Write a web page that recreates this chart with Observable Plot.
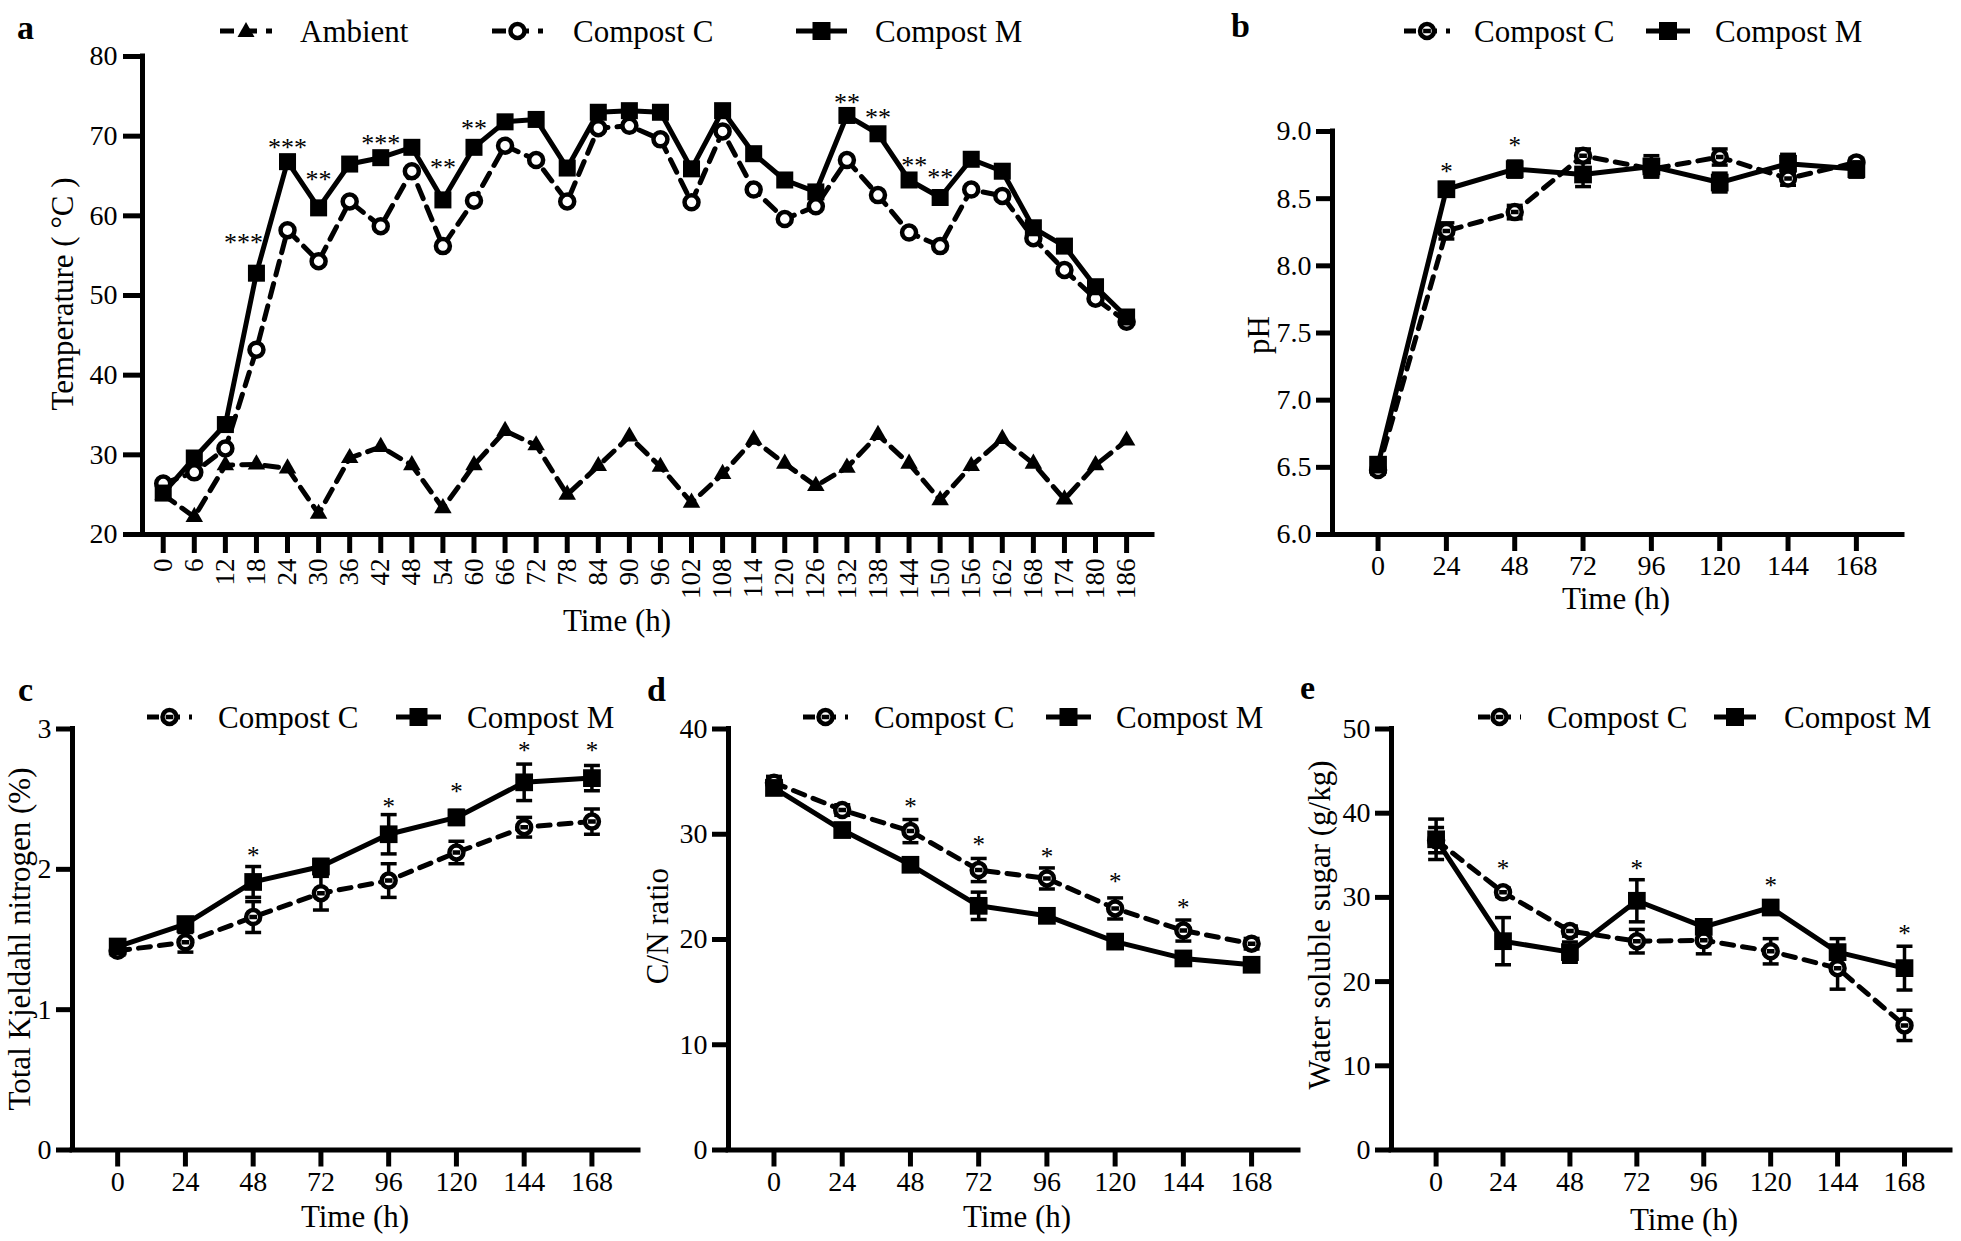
<!DOCTYPE html>
<html><head><meta charset="utf-8">
<script src="https://cdn.jsdelivr.net/npm/d3@7"></script>
<script src="https://cdn.jsdelivr.net/npm/@observablehq/plot@0.6"></script>
<style>
body{margin:0;background:#fff;}
#root{position:relative;width:1961px;height:1241px;overflow:hidden;font-family:"Liberation Serif","Times New Roman",serif;background:#fff;}
.panel{position:absolute;}
#overlay{position:absolute;left:0;top:0;pointer-events:none;}
</style></head><body><div id="root"></div>
<script>
// ---------- DATA ----------
// Panel a: temperature
const timeA = [0,6,12,18,24,30,36,42,48,54,60,66,72,78,84,90,96,102,108,114,120,126,132,138,144,150,156,162,168,174,180,186];
const ambientT = [25.0,22.2,28.7,28.8,28.3,22.6,29.6,31.0,28.7,23.3,28.7,33.0,31.2,25.0,28.6,32.3,28.5,24.0,27.6,31.9,28.9,26.1,28.4,32.5,28.9,24.3,28.6,32.0,28.9,24.4,28.7,31.8];
const compostC_T = [26.4,27.8,30.8,43.2,58.2,54.3,61.8,58.7,65.6,56.2,61.9,68.8,67.0,61.8,71.0,71.3,69.6,61.7,70.6,63.3,59.6,61.2,67.0,62.6,57.9,56.2,63.3,62.5,57.2,53.2,49.6,46.7];
const compostM_T = [25.2,29.6,33.8,52.8,66.8,61.0,66.5,67.3,68.6,62.0,68.6,71.8,72.1,66.0,73.0,73.2,73.0,65.9,73.2,67.8,64.5,63.0,72.6,70.3,64.5,62.3,67.1,65.6,58.5,56.2,51.1,47.3];
const sigA_time = [15.5,24,30,42,54,60,132,138,145,150];
const sigA_y = [57.1,69.1,65.0,69.5,66.6,71.4,74.7,72.8,66.8,65.3];
const sigA_label = ["***","***","**","***","**","**","**","**","**","**"];
const tempTicks = [20,30,40,50,60,70,80];

// Panels b-e share time points
const timeB = [0,24,48,72,96,120,144,168];

// Panel b: pH
const pH_C = [6.48,8.26,8.40,8.82,8.72,8.81,8.65,8.77];
const pH_C_err = [0.03,0.06,0.05,0.05,0.05,0.06,0.05,0.03];
const pH_M = [6.52,8.57,8.72,8.68,8.74,8.62,8.76,8.72];
const pH_M_err = [0.03,0.05,0.06,0.09,0.08,0.07,0.07,0.06];
const sigB_time = [24,48];
const sigB_y = [8.73,8.92];
const pHTicks = [6.0,6.5,7.0,7.5,8.0,8.5,9.0];

// Panel c: total Kjeldahl nitrogen (%)
const tkn_C = [1.42,1.48,1.66,1.83,1.92,2.12,2.30,2.34];
const tkn_C_err = [0.03,0.07,0.11,0.12,0.12,0.08,0.07,0.09];
const tkn_M = [1.45,1.61,1.91,2.02,2.25,2.37,2.62,2.65];
const tkn_M_err = [0.03,0.03,0.11,0.05,0.14,0.05,0.13,0.09];
const sigC_time = [48,96,120,144,168];
const sigC_y = [2.12,2.47,2.58,2.87,2.87];
const tknTicks = [0,1,2,3];

// Panel d: C/N ratio
const cn_C = [34.9,32.3,30.3,26.6,25.8,22.95,20.85,19.6];
const cn_C_err = [0.6,0.5,1.1,1.1,1.0,1.0,1.0,0.5];
const cn_M = [34.4,30.4,27.1,23.2,22.25,19.8,18.2,17.6];
const cn_M_err = [0.5,0.5,0.6,1.3,0.5,0.5,0.6,0.4];
const sigD_time = [48,72,96,120,144];
const sigD_y = [33.0,29.4,28.2,25.8,23.4];
const cnTicks = [0,10,20,30,40];

// Panel e: water soluble sugar (g/kg)
const wss_C = [36.8,30.6,26.0,24.8,24.9,23.6,21.6,14.8];
const wss_C_err = [1.5,0.5,0.6,1.4,1.6,1.5,2.5,1.8];
const wss_M = [36.9,24.8,23.5,29.6,26.5,28.8,23.5,21.6];
const wss_M_err = [2.4,2.8,1.2,2.5,0.8,0.6,1.6,2.6];
const sigE_time = [24,72,120,168];
const sigE_y = [33.8,33.9,31.8,26.1];
const wssTicks = [0,10,20,30,40,50];

// ---------- SYMBOLS ----------
const hline = {draw(ctx, size){ const w = Math.sqrt(size); ctx.moveTo(-w/2,0); ctx.lineTo(w/2,0); }};
const circleDash = {draw(ctx, size){ const r = Math.sqrt(size/Math.PI); ctx.moveTo(r,0); ctx.arc(0,0,r,0,2*Math.PI); ctx.closePath(); ctx.moveTo(-r*0.55,0); ctx.lineTo(r*0.55,0); }};

const FONT = '"Liberation Serif","Times New Roman",serif';
const intFmt = d3.format("d");

function panel(cfg){
  const marks = [];
  const xd = cfg.xDomain, yd = cfg.yDomain;
  // axis lines
  marks.push(Plot.ruleY([yd[0]], {x1: xd[0], x2: xd[1], stroke:"black", strokeWidth:5, strokeLinecap:"square"}));
  marks.push(Plot.ruleX([xd[0]], {y1: yd[0], y2: yd[1], stroke:"black", strokeWidth:5, strokeLinecap:"square"}));
  marks.push(Plot.axisX(cfg.xTicks, {anchor:"bottom", tickSize: cfg.xTickSize, tickPadding: cfg.xTickPadding, strokeWidth:5, fontSize: cfg.xFont, label:null, tickFormat: intFmt, tickRotate: cfg.xRotate || 0, ...(cfg.xRotate ? {textAnchor:"end", lineAnchor:"middle"} : {})}));
  marks.push(Plot.axisY(cfg.yTicks, {anchor:"left", tickSize: cfg.yTickSize, tickPadding: cfg.yTickPadding, strokeWidth:5, fontSize: cfg.yFont, label:null, tickFormat: cfg.yFormat || intFmt}));
  // lines
  for (const s of cfg.series){
    const idx = d3.range(s.t.length);
    marks.push(Plot.line(idx, {x: i=>s.t[i], y: i=>s.v[i], stroke:"black", strokeWidth:5, strokeDasharray: s.dash, strokeLinejoin:"miter"}));
  }
  // error bars
  for (const s of cfg.series){
    if (!s.err) continue;
    const idx = d3.range(s.t.length);
    marks.push(Plot.ruleX(idx, {x: i=>s.t[i], y1: i=>s.v[i]-s.err[i], y2: i=>s.v[i]+s.err[i], stroke:"black", strokeWidth:3.5}));
    marks.push(Plot.dot(idx, {x: i=>s.t[i], y: i=>s.v[i]-s.err[i], symbol: hline, r: 9, stroke:"black", strokeWidth:3.5, fill:"none"}));
    marks.push(Plot.dot(idx, {x: i=>s.t[i], y: i=>s.v[i]+s.err[i], symbol: hline, r: 9, stroke:"black", strokeWidth:3.5, fill:"none"}));
  }
  // markers
  for (const s of cfg.series){
    const idx = d3.range(s.t.length);
    marks.push(Plot.dot(idx, {x: i=>s.t[i], y: i=>s.v[i], symbol: s.symbol, r: s.r, fill: s.fill, stroke: s.stroke || "none", strokeWidth: s.sw || 0}));
  }
  // significance
  const sidx = d3.range(cfg.sig.t.length);
  marks.push(Plot.text(sidx, {x: i=>cfg.sig.t[i], y: i=>cfg.sig.y[i], text: i=>cfg.sig.label ? cfg.sig.label[i] : "*", fontSize: cfg.sigFont, dy: 4, fill:"black", textAnchor:"middle", lineAnchor:"middle", letterSpacing: cfg.sigSpacing || 0}));

  const svg = Plot.plot({
    width: cfg.width, height: cfg.height,
    marginLeft: cfg.mL, marginRight: cfg.mR, marginTop: cfg.mT, marginBottom: cfg.mB,
    x: {domain: xd, axis: null},
    y: {domain: yd, axis: null},
    style: {fontFamily: FONT, fontSize: "28px", color: "black", background: "transparent", overflow: "visible"},
    marks
  });
  const div = document.createElement("div");
  div.className = "panel";
  div.style.left = cfg.left + "px";
  div.style.top = cfg.top + "px";
  div.appendChild(svg);
  document.getElementById("root").appendChild(div);
}

const dashA = "14,9", dashB = "12,9";
const xDomBE = [-16, 184.5];

// Panel a
panel({left:0, top:0, width:1170, height:640, mL:142, mR:18, mT:56, mB:106,
  xDomain:[-4,191], yDomain:[20,80], xTicks: timeA, yTicks: tempTicks,
  xTickSize:19, xTickPadding:5, xFont:27, xRotate:-90, yTickSize:19, yTickPadding:6, yFont:28,
  series:[
    {t:timeA, v:ambientT, dash:dashA, symbol:"triangle", r:6.5, fill:"black"},
    {t:timeA, v:compostC_T, dash:dashA, symbol:"circle", r:7, fill:"white", stroke:"black", sw:4.5},
    {t:timeA, v:compostM_T, symbol:"square", r:9.6, fill:"black"}
  ],
  sig:{t:sigA_time, y:sigA_y, label:sigA_label}, sigFont:26, sigSpacing:2});

// Panel b
panel({left:1200, top:0, width:761, height:640, mL:132, mR:59, mT:131, mB:106,
  xDomain:[-16,184.2], yDomain:[6,9], xTicks: timeB, yTicks: pHTicks, yFormat: d3.format(".1f"),
  xTickSize:17, xTickPadding:4, xFont:28, yTickSize:16, yTickPadding:5, yFont:28,
  series:[
    {t:timeB, v:pH_C, err:pH_C_err, dash:dashB, symbol:circleDash, r:7, fill:"white", stroke:"black", sw:4.5},
    {t:timeB, v:pH_M, err:pH_M_err, symbol:"square", r:10, fill:"black"}
  ],
  sig:{t:sigB_time, y:sigB_y}, sigFont:25});

// Panel c
panel({left:0, top:660, width:650, height:581, mL:72, mR:12, mT:68.5, mB:91.5,
  xDomain:xDomBE, yDomain:[0,3], xTicks: timeB, yTicks: tknTicks,
  xTickSize:17, xTickPadding:4, xFont:28, yTickSize:16, yTickPadding:5, yFont:28,
  series:[
    {t:timeB, v:tkn_C, err:tkn_C_err, dash:dashB, symbol:circleDash, r:7, fill:"white", stroke:"black", sw:4.5},
    {t:timeB, v:tkn_M, err:tkn_M_err, symbol:"square", r:10, fill:"black"}
  ],
  sig:{t:sigC_time, y:sigC_y}, sigFont:25});

// Panel d
panel({left:650, top:660, width:661, height:581, mL:78, mR:13, mT:68.5, mB:91.5,
  xDomain:xDomBE, yDomain:[0,40], xTicks: timeB, yTicks: cnTicks,
  xTickSize:17, xTickPadding:4, xFont:28, yTickSize:16, yTickPadding:5, yFont:28,
  series:[
    {t:timeB, v:cn_C, err:cn_C_err, dash:dashB, symbol:circleDash, r:7, fill:"white", stroke:"black", sw:4.5},
    {t:timeB, v:cn_M, err:cn_M_err, symbol:"square", r:10, fill:"black"}
  ],
  sig:{t:sigD_time, y:sigD_y}, sigFont:25});

// Panel e
panel({left:1311, top:660, width:650, height:581, mL:80, mR:11, mT:68.5, mB:91.5,
  xDomain:xDomBE, yDomain:[0,50], xTicks: timeB, yTicks: wssTicks,
  xTickSize:17, xTickPadding:4, xFont:28, yTickSize:16, yTickPadding:5, yFont:28,
  series:[
    {t:timeB, v:wss_C, err:wss_C_err, dash:dashB, symbol:circleDash, r:7, fill:"white", stroke:"black", sw:4.5},
    {t:timeB, v:wss_M, err:wss_M_err, symbol:"square", r:10, fill:"black"}
  ],
  sig:{t:sigE_time, y:sigE_y}, sigFont:25});

// ---------- OVERLAY: panel letters, legends, axis titles ----------
function circleDashPath(cx, cy, r){
  return `<circle cx="${cx}" cy="${cy}" r="${r}" fill="white" stroke="black" stroke-width="4.5"/>` +
         `<line x1="${cx-r*0.55}" y1="${cy}" x2="${cx+r*0.55}" y2="${cy}" stroke="black" stroke-width="4.5"/>`;
}
function legendSample(kind, x1, x2, y, dash){
  const cx = (x1+x2)/2;
  let s = "";
  if (kind === "M"){
    s += `<line x1="${x1}" y1="${y}" x2="${x2}" y2="${y}" stroke="black" stroke-width="5"/>`;
    s += `<rect x="${cx-9}" y="${y-9}" width="18" height="18" fill="black"/>`;
  } else {
    s += `<line x1="${x1}" y1="${y}" x2="${x2}" y2="${y}" stroke="black" stroke-width="5" stroke-dasharray="${dash}"/>`;
    if (kind === "A") s += `<path d="M${cx},${y-9} L${cx+8.5},${y+6} L${cx-8.5},${y+6} Z" fill="black"/>`;
    else if (kind === "Ca") s += `<circle cx="${cx}" cy="${y}" r="7" fill="white" stroke="black" stroke-width="4.5"/>`;
    else s += circleDashPath(cx, y, 7);
  }
  return s;
}
function txt(x, y, str, size, opts = {}){
  const anchor = opts.anchor || "start";
  const base = opts.baseline || "central";
  const weight = opts.bold ? "bold" : "normal";
  const rot = opts.rotate ? ` transform="rotate(-90 ${x} ${y})"` : "";
  return `<text x="${x}" y="${y}" font-size="${size}" font-weight="${weight}" text-anchor="${anchor}" dominant-baseline="${base}"${rot}>${str}</text>`;
}
let o = `<svg id="overlay" width="1961" height="1241" xmlns="http://www.w3.org/2000/svg" style="font-family:'Liberation Serif','Times New Roman',serif" fill="black">`;
// panel letters
o += txt(17, 39, "a", 34, {bold:true, baseline:"alphabetic"});
o += txt(1231, 37, "b", 34, {bold:true, baseline:"alphabetic"});
o += txt(18, 701, "c", 34, {bold:true, baseline:"alphabetic"});
o += txt(647, 701, "d", 34, {bold:true, baseline:"alphabetic"});
o += txt(1300, 699, "e", 34, {bold:true, baseline:"alphabetic"});
// legends
o += legendSample("A", 220, 272, 31, dashA) + txt(300, 31, "Ambient", 31);
o += legendSample("Ca", 492, 543, 31, dashA) + txt(573, 31, "Compost C", 31);
o += legendSample("M", 796, 847, 31) + txt(875, 31, "Compost M", 31);
o += legendSample("C", 1404, 1450, 31, dashB) + txt(1474, 31, "Compost C", 31);
o += legendSample("M", 1646, 1690, 31) + txt(1715, 31, "Compost M", 31);
o += legendSample("C", 147, 192, 717, dashB) + txt(218, 717, "Compost C", 31);
o += legendSample("M", 396, 441, 717) + txt(467, 717, "Compost M", 31);
o += legendSample("C", 803, 848, 717, dashB) + txt(874, 717, "Compost C", 31);
o += legendSample("M", 1046, 1091, 717) + txt(1116, 717, "Compost M", 31);
o += legendSample("C", 1478, 1521, 717, dashB) + txt(1547, 717, "Compost C", 31);
o += legendSample("M", 1714, 1756, 717) + txt(1784, 717, "Compost M", 31);
// axis titles
o += txt(62, 294, "Temperature ( °C )", 31, {anchor:"middle", rotate:true});
o += txt(617, 620, "Time (h)", 31, {anchor:"middle"});
o += txt(1258, 335, "pH", 31, {anchor:"middle", rotate:true});
o += txt(1616, 598, "Time (h)", 31, {anchor:"middle"});
o += txt(19, 939, "Total Kjeldahl nitrogen (%)", 31, {anchor:"middle", rotate:true});
o += txt(355, 1216, "Time (h)", 31, {anchor:"middle"});
o += txt(657, 926, "C/N ratio", 31, {anchor:"middle", rotate:true});
o += txt(1017, 1216, "Time (h)", 31, {anchor:"middle"});
o += txt(1319, 925, "Water soluble sugar (g/kg)", 31, {anchor:"middle", rotate:true});
o += txt(1684, 1219, "Time (h)", 31, {anchor:"middle"});
o += `</svg>`;
document.getElementById("root").insertAdjacentHTML("beforeend", o);
</script>
</body></html>
